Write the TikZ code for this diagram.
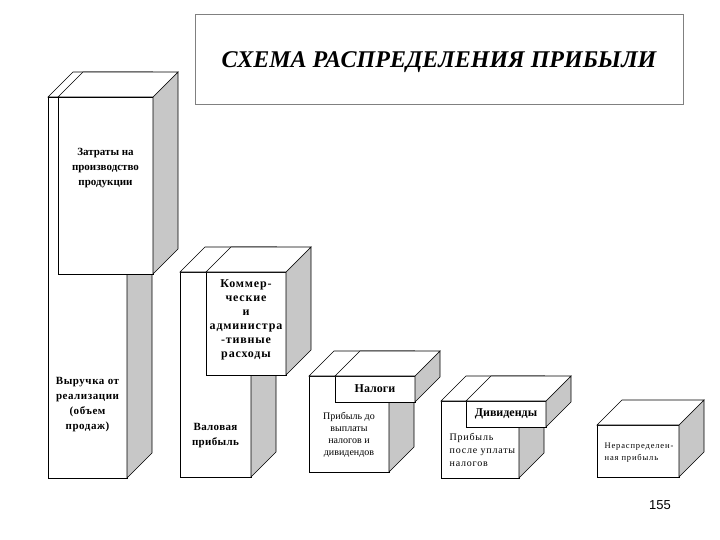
\documentclass[tikz,border=0pt]{standalone}
\usepackage{fontspec}
\setmainfont{Liberation Serif}
\setsansfont{Liberation Sans}
\usetikzlibrary{positioning,calc}

\begin{document}
\begin{tikzpicture}[
  x=1pt, y=-1pt,
  line width=0.6pt,
  face/.style={draw, fill=white, anchor=north west, inner sep=0pt, outer sep=0pt},
  side/.style={fill=black!22, draw=black},
  top/.style={fill=white, draw=black},
  lbl/.style={align=center, font=\fontsize{11}{15}\selectfont\bfseries},
  note/.style={align=center, font=\fontsize{10}{12}\selectfont}
]
\useasboundingbox (0,0) rectangle (720,540);
\node[draw=gray, minimum width=488pt, minimum height=90pt] (title) at (439,59) {};
\node[font=\fontsize{24}{28}\selectfont\bfseries\itshape] (titletxt) at ($(title.center)+(0,3)$) {СХЕМА РАСПРЕДЕЛЕНИЯ ПРИБЫЛИ};

% boxes: name/x/y/width/height of the front face
\foreach \n/\x/\y/\w/\h in {vyr/48/97/79/381, zat/58/97/95/177,
  val/180/272/71/205, kom/206/272/80/103,
  prd/309/376/80/96, nal/335/376/80/26,
  ppu/441/401/78/77, div/466/401/80/26,
  ner/597/425/82/52} {
  \node[face, minimum width=\w pt, minimum height=\h pt] (\n) at (\x,\y) {};
  \filldraw[side] (\n.north east) -- ++(25,-25) -- ([shift={(25,-25)}]\n.south east) -- (\n.south east) -- cycle;
  \filldraw[top] (\n.north west) -- ++(25,-25) -- ([shift={(25,-25)}]\n.north east) -- (\n.north east) -- cycle;
}

\node[lbl] (zattxt) at ($(zat.north)+(0,71)$) {Затраты на\\производство\\продукции};
\node[lbl, font=\fontsize{11}{15}\selectfont\bfseries\addfontfeature{LetterSpace=5}] (vyrtxt) at ($(vyr.south)+(0,-73)$) {Выручка от\\реализации\\(объем\\продаж)};
\node[lbl, font=\fontsize{11}{15}\selectfont\bfseries\addfontfeature{LetterSpace=3}] (valtxt) at ($(val.south)+(0,-41)$) {Валовая\\прибыль};
\node[lbl, font=\fontsize{12}{14}\selectfont\bfseries\addfontfeature{LetterSpace=7}] (komtxt) at ($(kom.center)+(0,-4)$) {Коммер-\\ческие\\и\\администра\\-тивные\\расходы};
\node[lbl, font=\fontsize{12}{14}\selectfont\bfseries] (naltxt) at (nal.center) {Налоги};
\node[note] (prdtxt) at ($(prd.south)+(0,-37)$) {Прибыль до\\выплаты\\налогов и\\дивидендов};
\node[lbl, font=\fontsize{12}{14}\selectfont\bfseries] (divtxt) at (div.center) {Дивиденды};
\node[note, align=left, anchor=west, font=\fontsize{10}{13}\selectfont\addfontfeature{LetterSpace=8}] (pputxt) at ($(ppu.south west)+(5,-28)$) {Прибыль\\после уплаты\\налогов};
\node[note, align=left, anchor=west, font=\fontsize{8.5}{12}\selectfont\addfontfeature{LetterSpace=10}] (nertxt) at ($(ner.west)+(4,2)$) {Нераспределен-\\ная прибыль};
\node[font=\sffamily\fontsize{13}{15}\selectfont] (page) at (660,505) {155};
\end{tikzpicture}
\end{document}
